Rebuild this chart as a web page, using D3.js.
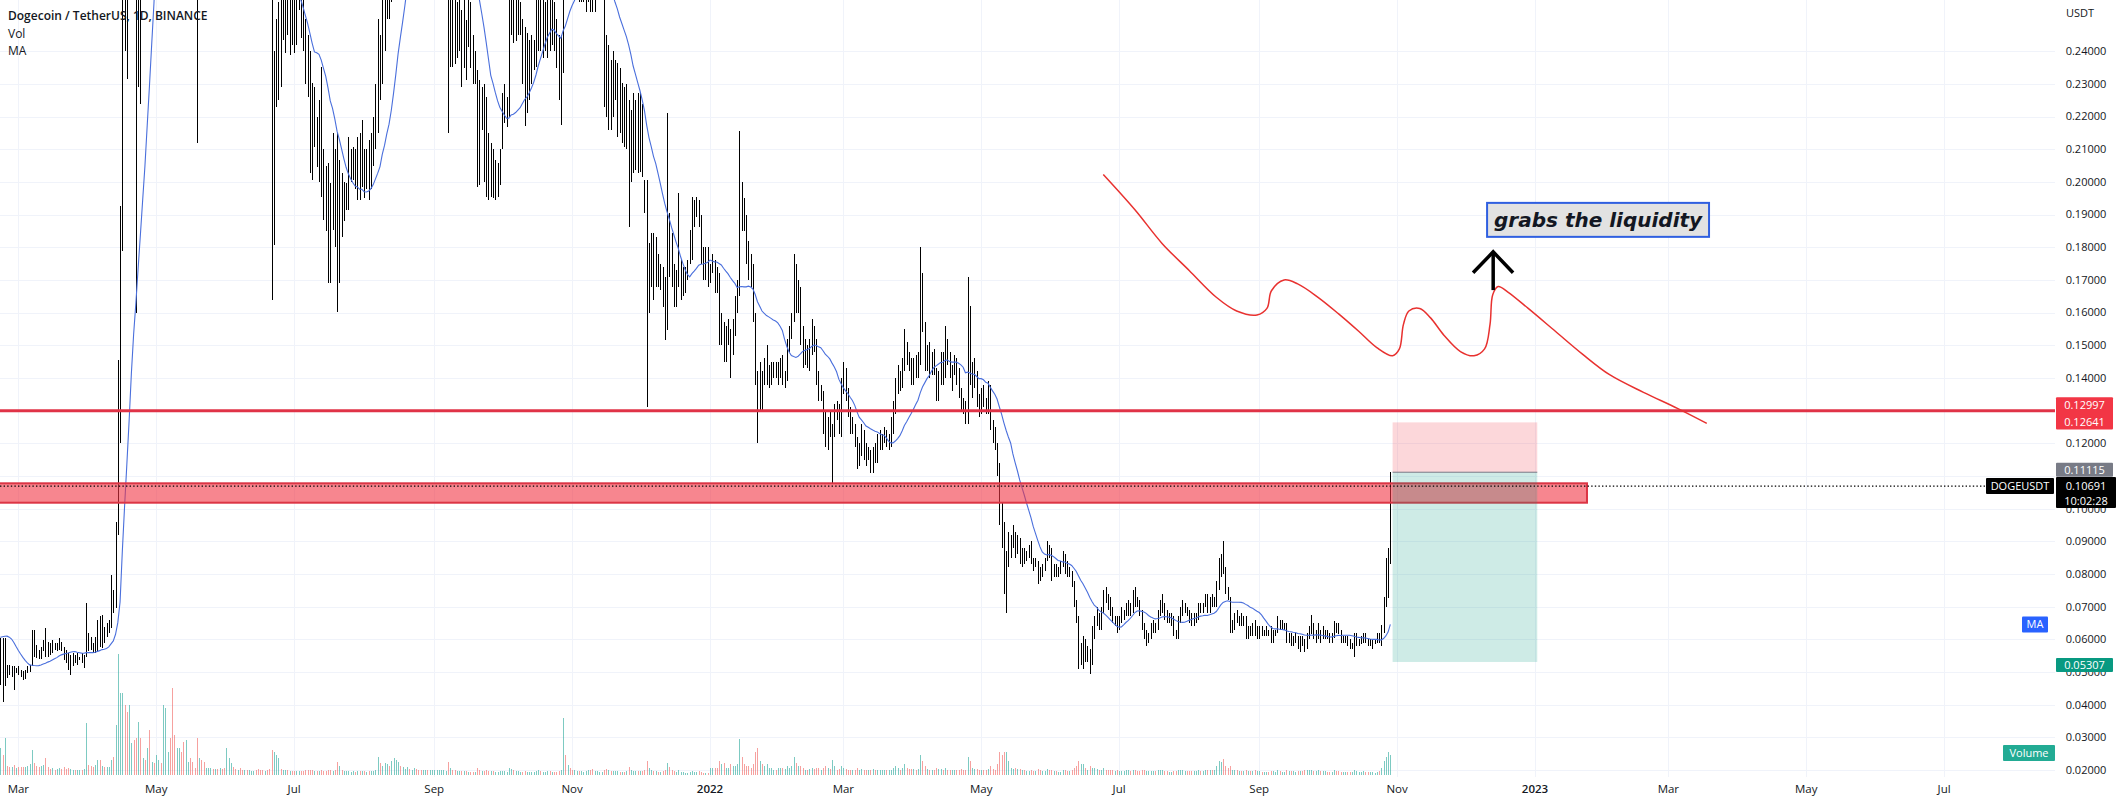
<!DOCTYPE html>
<html><head><meta charset="utf-8">
<script src="https://cdn.jsdelivr.net/npm/d3@7"></script>
<style>
html,body{margin:0;padding:0;background:#fff;}
svg{display:block;font-family:"Open Sans","Noto Sans",sans-serif;}
</style></head><body>
<svg id="chart" width="2120" height="803"></svg>
<script>
// ---------- DATA (prices x 10 000 USDT, daily bars from 2021-02-21) ----------
const firstBarDate = "2021-02-21";
// closes of the 19 days before the first visible bar (needed for the 20-day MA)
const preClose = [470,490,500,560,620,700,760,740,710,690,680,660,640,610,590,570,550,530,520];

const high = [
// 2021 Feb 21-28
603,603,603,522,522,519,517,512,
// Mar
517,506,504,506,517,522,629,629,583,568,578,598,634,593,588,598,588,588,603,593,578,568,557,552,557,552,557,547,557,552,710,
// Apr
619,608,588,608,659,670,675,639,649,659,797,751,960,1455,1925,4500,4100,3800,4000,4300,3700,3100,2950,2900,2900,2950,3150,3200,3300,3300,
// May
3900,4100,4000,5000,6800,7300,7400,6100,5300,5200,5700,5100,4900,5000,5400,5200,4700,4400,4000,3800,3700,3600,3300,3400,3600,3500,3400,3300,3300,3300,3200,
// Jun
3600,3800,4300,4100,3800,3800,3700,3400,3400,3400,3300,3300,3400,3400,3250,3000,2950,2900,2900,2850,2850,2400,2500,2550,2600,2700,2700,2650,2650,2700,
// Jul
2650,2600,2650,2600,2600,2500,2450,2400,2302,2292,2200,2250,2353,2100,2050,2057,1996,2149,2100,2149,2067,2026,2000,1996,2139,2100,2108,2100,2139,2149,2190,
// Aug
2100,2100,2129,2150,2200,2300,2500,2450,2600,2650,2750,2700,2900,3200,3300,3500,3400,3150,3150,3250,3200,3200,3400,3300,3050,2950,2950,2950,2900,2850,2950,
// Sep
3000,3050,3100,3150,3200,3100,3100,2600,2650,2600,2550,2600,2526,2560,2496,2600,2550,2450,2400,2343,2312,2292,2300,2261,2149,2118,2100,2067,2057,2100,
// Oct
2271,2300,2261,2600,2700,2650,2600,2650,2550,2500,2475,2455,2435,2450,2435,2600,2700,2650,2600,2550,2650,2700,2600,2550,2500,2450,2450,3400,3100,2900,2900,
// Nov
2800,2800,2800,2750,2700,2700,2800,2950,2900,2750,2700,2700,2700,2700,2650,2450,2419,2373,2400,2373,2363,2350,2302,2292,2300,2251,2220,2271,2250,2271,
// Dec
2271,2240,2006,2006,1812,1843,1843,1833,1780,1750,1741,1710,2210,1904,1843,1750,1731,1965,1760,1740,1740,1760,1853,1955,1945,1955,1945,1900,1800,1800,1800,
// 2022 Jan
1750,1780,1760,1740,1720,1600,1570,1560,1580,1550,1580,1650,1700,2155,2000,1950,1900,1820,1780,1750,1600,1420,1450,1420,1460,1500,1440,1450,1450,1450,1450,
// Feb
1460,1470,1420,1520,1560,1600,1780,1750,1700,1680,1560,1520,1500,1520,1580,1560,1520,1420,1380,1360,1300,1280,1300,1260,1320,1330,1320,1400,
// Mar
1450,1430,1370,1310,1280,1260,1220,1200,1260,1240,1200,1190,1180,1190,1200,1230,1240,1230,1250,1240,1230,1280,1330,1400,1440,1420,1460,1550,1510,1480,1460,
// Apr
1460,1470,1480,1800,1720,1570,1500,1510,1480,1490,1430,1420,1480,1480,1560,1520,1480,1440,1470,1460,1430,1370,1340,1330,1710,1620,1450,1460,1420,1350,
// May
1370,1380,1340,1390,1380,1270,1250,1200,1140,1020,960,870,930,920,950,930,920,910,880,880,870,890,900,850,850,840,820,830,850,900,890,
// Jun
880,830,830,820,840,870,860,840,820,810,780,720,670,590,610,600,580,570,640,670,700,680,700,750,760,740,730,700,670,670,
// Jul
670,700,690,710,720,710,750,760,730,720,690,650,630,620,650,660,650,690,720,740,710,690,680,680,670,630,670,700,720,710,700,
// Aug
690,680,680,680,710,710,710,740,740,730,740,730,780,850,860,900,820,760,730,660,680,690,670,680,670,670,640,640,650,660,640,
// Sep
640,640,630,640,630,640,630,630,670,660,660,650,650,620,620,610,620,610,610,610,600,620,640,675,650,630,650,630,640,630,
// Oct 1-29
630,620,620,655,650,650,630,610,610,610,600,590,620,620,600,610,620,620,600,600,600,600,620,620,645,730,850,880,1112
];

const low = [
460,409,457,481,491,486,445,496,
491,486,476,478,496,501,517,547,542,539,539,565,547,547,552,557,568,563,568,563,537,527,506,491,517,527,522,537,527,512,547,
563,568,557,557,563,578,573,588,608,619,634,680,695,919,1200,1790,2400,2315,2800,3000,2700,1600,2290,2240,2600,2650,2700,2900,2950,3000,
3100,3500,3600,3700,4800,5500,5300,4500,4300,4200,4600,4600,4000,4000,4500,4400,3800,3500,2120,3100,3200,2700,2700,2900,3200,3100,3000,3000,2950,2980,2950,
3000,3400,3600,3600,3500,3500,3200,3000,3100,3150,3100,3100,3150,3100,2850,2750,2750,2700,2650,2600,1640,1807,2231,2250,2292,2435,2394,2450,2389,2420,
2394,2420,2526,2440,2400,2300,2261,2026,2006,2108,2047,2000,1955,1884,1850,1690,1690,1853,1800,1603,1690,1833,1880,1914,1914,2000,2006,1980,1945,1945,1986,
1950,1980,1945,1980,2050,2100,2150,2250,2300,2400,2500,2500,2550,2750,3000,3100,2950,2900,2950,3000,3050,3000,3100,2950,2850,2700,2700,2800,2750,2700,2750,
2750,2900,2950,2950,3000,2950,2149,2353,2353,2360,2380,2400,2292,2350,2312,2414,2350,2300,2300,1986,1991,2160,2000,1955,1945,1955,1950,1945,1955,1990,
2100,2180,2169,2200,2450,2424,2430,2450,2450,2300,2170,2210,2251,2300,2343,2353,2400,2400,2380,2400,2380,2400,2420,2400,2350,2250,2174,2333,2700,2650,2650,
2600,2600,2600,2550,2550,2550,2520,2550,2520,2520,2520,2560,2560,2560,2231,2200,2159,2159,2200,2251,2139,2150,2118,2108,2100,1863,2000,2026,2037,2026,
2030,2016,1904,1310,1598,1680,1639,1680,1680,1670,1618,1516,1547,1710,1680,1618,1618,1680,1640,1650,1660,1700,1750,1761,1863,1894,1863,1750,1700,1700,1680,
1690,1720,1660,1660,1500,1500,1450,1450,1500,1400,1470,1530,1600,1650,1850,1850,1750,1700,1680,1570,1380,1200,1300,1300,1380,1380,1370,1380,1400,1400,1380,
1400,1380,1370,1390,1480,1520,1570,1600,1600,1500,1430,1440,1430,1420,1470,1480,1380,1330,1330,1230,1190,1180,1220,1080,1220,1270,1230,1220,
1350,1330,1280,1230,1230,1190,1120,1130,1160,1150,1130,1150,1110,1110,1140,1140,1180,1180,1200,1190,1180,1190,1230,1290,1350,1360,1370,1420,1440,1420,1380,
1380,1400,1400,1440,1540,1420,1420,1400,1410,1410,1330,1330,1380,1380,1400,1440,1400,1360,1410,1380,1340,1300,1290,1260,1260,1380,1340,1370,1310,1280,
1290,1310,1290,1290,1240,1200,1180,1100,950,880,740,680,820,850,880,850,860,830,820,830,840,850,830,810,820,770,780,790,810,840,850,
780,790,790,790,800,820,800,790,790,760,700,650,510,520,510,530,530,495,520,600,640,630,630,680,710,690,670,650,640,620,
630,650,660,670,670,670,680,700,700,670,630,600,580,590,600,620,620,630,670,680,660,650,650,640,610,600,600,650,670,680,670,
650,640,640,650,660,680,680,700,680,680,700,700,700,750,790,800,740,720,620,620,630,650,640,640,640,600,600,610,610,610,600,
600,610,610,610,610,590,590,610,620,630,630,630,590,590,580,580,590,570,560,580,560,570,600,615,600,590,600,590,600,600,
600,590,590,605,620,615,590,590,590,580,570,570,545,580,580,585,590,590,580,580,570,585,590,590,580,620,700,727,830
];

const close = [
540,500,520,505,500,505,490,505,
500,495,485,495,510,515,590,570,560,555,565,585,580,575,570,580,575,578,590,575,545,535,520,535,540,535,540,542,535,548,600,
590,580,570,600,630,620,640,615,625,640,720,700,940,1250,1800,3650,3300,3100,3200,3500,3000,2500,2700,2650,2750,2700,3100,3050,3200,3150,
3800,3900,3800,4900,5800,6700,6000,5000,4600,4900,5100,4800,4200,4900,5100,4600,4200,3900,3500,3600,3300,2900,3000,3300,3500,3200,3300,3100,3200,3100,3050,
3500,3700,4000,3700,3600,3700,3300,3200,3300,3200,3200,3200,3300,3200,2900,2850,2800,2800,2750,2730,2150,2250,2400,2450,2400,2550,2600,2500,2550,2500,
2450,2480,2550,2480,2450,2350,2300,2200,2150,2200,2100,2150,2050,1950,1900,1850,1800,2050,1900,1750,1950,1900,1950,1950,2050,2050,2050,2000,2100,2050,2100,
2000,2040,2000,2050,2100,2150,2400,2300,2500,2500,2600,2550,2800,3100,3200,3300,3000,3050,3050,3200,3100,3100,3300,3000,2950,2800,2900,2900,2800,2800,2900,
2950,3000,3000,3050,3050,3050,2500,2550,2500,2450,2450,2480,2450,2500,2400,2450,2400,2350,2350,2100,2050,2200,2150,2100,2050,2050,2000,2000,2000,2050,
2200,2250,2250,2500,2600,2500,2500,2500,2500,2350,2300,2350,2400,2400,2400,2500,2550,2450,2450,2500,2600,2500,2500,2450,2400,2350,2350,2950,2800,2800,2750,
2700,2700,2700,2600,2600,2600,2700,2800,2700,2600,2600,2600,2600,2600,2500,2300,2300,2200,2300,2300,2300,2200,2300,2200,2200,2100,2100,2100,2200,2100,
2100,2020,1950,1700,1750,1750,1700,1750,1700,1700,1650,1600,1800,1750,1700,1650,1650,1700,1700,1700,1700,1740,1800,1900,1900,1920,1900,1800,1720,1750,1700,
1740,1740,1700,1690,1560,1560,1500,1520,1530,1480,1550,1630,1650,1950,1930,1880,1800,1760,1700,1580,1400,1300,1420,1400,1420,1420,1420,1430,1430,1420,1430,
1430,1390,1400,1500,1540,1580,1700,1650,1650,1540,1460,1480,1450,1480,1550,1510,1400,1350,1360,1250,1220,1260,1240,1240,1300,1290,1250,1370,
1400,1350,1300,1250,1250,1200,1150,1170,1230,1180,1160,1170,1130,1180,1170,1200,1200,1210,1230,1200,1200,1250,1300,1360,1400,1380,1440,1500,1460,1440,1400,
1430,1420,1450,1620,1560,1450,1470,1420,1460,1430,1350,1400,1460,1420,1500,1460,1410,1420,1440,1400,1360,1320,1310,1280,1600,1400,1400,1400,1330,1300,
1350,1330,1300,1370,1250,1240,1200,1130,970,950,840,850,900,910,930,870,900,840,870,850,860,880,840,830,830,810,800,820,840,890,870,
800,820,800,810,830,850,830,800,800,770,710,660,550,560,590,540,560,540,620,660,670,640,690,740,720,710,680,660,660,640,
660,670,680,700,700,690,730,720,710,680,630,600,610,610,630,640,630,680,700,700,680,660,660,660,620,610,660,690,690,690,680,
670,660,660,660,700,690,700,730,690,720,710,710,760,820,820,810,750,730,640,640,670,660,660,650,660,610,630,620,640,620,620,
630,620,620,630,620,600,620,620,650,640,640,640,600,610,590,600,610,580,600,590,580,610,620,640,610,620,620,610,620,620,
610,600,610,640,630,620,600,600,600,590,580,580,590,590,590,600,610,600,590,590,590,595,610,600,640,700,760,840,1069
];

// volume, 100M DOGE
const volume = [
89,66,122,30,25,28,33,22,
26,25,28,26,30,35,82,40,30,28,30,33,56,25,20,22,18,20,22,20,25,20,22,20,18,18,16,15,18,20,172,
33,30,28,33,50,50,30,26,26,28,50,60,165,400,270,270,231,208,231,106,116,122,175,122,56,50,89,149,43,40,
66,50,40,231,221,76,122,287,132,89,89,76,109,116,43,56,43,23,122,56,50,43,23,23,23,20,20,20,23,20,23,
89,56,40,26,20,17,23,17,15,15,15,12,12,15,20,15,15,13,17,20,82,76,66,56,20,17,15,15,13,13,
13,13,12,12,12,15,15,17,15,13,12,12,15,13,13,17,17,13,15,43,30,17,13,12,12,10,12,10,12,12,12,
12,10,12,12,12,15,59,40,30,40,35,30,45,56,50,43,30,25,20,25,20,18,23,20,17,17,15,15,15,15,17,
15,15,15,15,15,13,43,23,17,15,13,13,12,12,12,10,10,10,10,23,17,13,13,15,12,12,12,10,10,12,
12,12,10,23,20,15,12,12,10,10,12,10,10,10,10,13,15,12,10,10,13,12,10,10,10,12,17,188,66,33,23,
17,15,13,12,12,10,13,17,15,20,13,12,10,10,17,20,15,13,12,12,13,10,10,10,12,25,15,12,12,13,
13,12,15,45,23,15,12,12,10,10,12,17,40,25,15,12,10,17,10,10,8,8,10,13,10,10,12,10,8,8,8,
24,24,24,24,45,36,39,24,24,36,30,30,36,120,60,36,30,30,24,36,75,90,45,36,30,36,24,24,18,18,24,
24,24,21,30,24,30,60,39,30,30,24,18,18,21,24,21,24,24,15,24,30,24,21,51,30,18,21,30,
24,21,18,18,15,18,24,18,21,18,18,15,18,21,18,18,15,15,15,15,15,18,24,30,24,18,24,36,24,21,21,
21,18,21,66,45,30,21,18,15,15,24,21,21,18,24,15,15,18,15,15,18,21,15,15,60,45,24,21,21,15,
15,15,15,21,30,21,18,36,75,66,75,75,45,24,21,24,21,21,18,15,12,12,15,12,12,21,18,12,12,21,18,
15,12,12,9,9,15,15,12,12,15,24,30,45,36,36,24,18,30,24,24,21,15,18,24,18,15,18,15,12,15,
12,12,12,15,15,12,18,15,12,12,15,15,12,12,12,12,12,15,15,18,12,12,9,9,12,12,15,15,15,12,12,
12,12,12,12,18,12,12,18,15,18,15,15,30,45,42,54,30,24,30,18,18,15,12,12,12,18,12,12,12,15,12,
12,9,9,9,9,12,12,9,15,12,9,9,15,12,12,12,9,12,12,12,15,15,15,15,12,12,15,12,12,12,
9,9,9,15,12,12,9,9,9,9,9,9,18,12,9,9,12,9,9,9,9,6,9,12,24,45,60,75,66
];

const maLength = 20;
const priceTicks = [0.02,0.03,0.04,0.05,0.06,0.07,0.08,0.09,0.10,0.11,0.12,0.13,0.14,0.15,0.16,0.17,0.18,0.19,0.20,0.21,0.22,0.23,0.24];
const hiddenTicks = [0.11, 0.13]; // fully covered by the price tags in the original
const timeTicks = [["2021-03-01","Mar"],["2021-05-01","May"],["2021-07-01","Jul"],["2021-09-01","Sep"],["2021-11-01","Nov"],
  ["2022-01-01","2022"],["2022-03-01","Mar"],["2022-05-01","May"],["2022-07-01","Jul"],["2022-09-01","Sep"],["2022-11-01","Nov"],
  ["2023-01-01","2023"],["2023-03-01","Mar"],["2023-05-01","May"],["2023-07-01","Jul"]];

// drawings
const resistanceLine = 0.12997;
const zoneTop = 0.10776, zoneBottom = 0.10182, zoneEnd = "2023-01-24";
const lastPrice = 0.10691, countdown = "10:02:28", symbol = "DOGEUSDT";
const posEntry = 0.11115, posStop = 0.12641, posTarget = 0.05307;
const posStart = "2022-10-30", posEnd = "2023-01-02";
// freehand projection: [days after 2022-01-01, price]
const projCurve = [[174,0.2023],[188,0.1915],[200,0.1812],[212,0.1729],[224,0.1647],[233,0.1605],[242,0.1593],[246.4,0.1613],[248.4,0.1667],[254,0.1700],[260,0.1688],[269,0.1647],[278,0.1597],[287,0.1543],[295,0.1493],[302,0.1468],[305,0.1489],[306.8,0.1564],[309.2,0.1605],[314,0.1613],[318.8,0.1584],[324.7,0.1531],[332,0.1481],[338,0.1468],[342.7,0.1489],[345.1,0.1564],[346.3,0.1655],[348.7,0.1680],[353,0.1663],[362,0.1613],[374,0.1543],[386,0.1473],[398,0.1410],[413,0.1356],[428,0.1307],[441,0.1261]];
const arrowShaft = [[346.5,0.1669],[346.5,0.1783]];
const arrowHead = [[337.6,0.1722],[346.5,0.1786],[355.3,0.1722]];
const noteBox = {d0:343.8, d1:442, p0:0.1936, p1:0.1832, text:"grabs the liquidity"};

// ---------- LAYOUT ----------
const PANE_R = 2055, PANE_B = 777, VOL_BASE = 775;
const DAY = 864e5;
const utc = s => new Date(s + "T00:00:00Z");
const dayAfter2022 = d => new Date(Date.UTC(2022,0,1) + d*DAY);

const x = d3.scaleUtc().domain([utc("2022-01-01"), utc("2023-01-01")]).range([710, 1535]);
const y = d3.scaleLinear().domain([0.02, 0.24]).range([770, 51.3]);
const vh = d3.scaleLinear().domain([0, 400]).range([0, 121]);
const px = d => Math.round(x(d)) + 0.5;

const svg = d3.select("#chart");
svg.append("rect").attr("width",2120).attr("height",803).attr("fill","#fff");

if (![low.length, close.length, volume.length].every(n => n === high.length)) {
  svg.append("text").attr("x",200).attr("y",200).attr("fill","red").attr("font-size",30)
    .text(`length mismatch ${high.length} ${low.length} ${close.length} ${volume.length}`);
}

const allClose = preClose.concat(close);
const t0 = utc(firstBarDate).getTime();
const bars = high.map((h, i) => {
  const j = i + preClose.length;
  const win = allClose.slice(j - maLength + 1, j + 1);
  return {
    date: new Date(t0 + i*DAY), h: h/1e4, l: low[i]/1e4, c: close[i]/1e4, v: volume[i],
    up: allClose[j] >= allClose[j-1],
    ma: d3.mean(win)/1e4
  };
});

svg.append("defs").append("clipPath").attr("id","pane")
  .append("rect").attr("x",0).attr("y",0).attr("width",PANE_R).attr("height",PANE_B);
const pane = svg.append("g").attr("clip-path","url(#pane)");

// grid
pane.selectAll("line.hg").data(priceTicks).join("line").attr("class","hg")
  .attr("x1",0).attr("x2",PANE_R).attr("y1",d=>Math.round(y(d))+0.5).attr("y2",d=>Math.round(y(d))+0.5)
  .attr("stroke","#f0f3fa").attr("stroke-width",1);
pane.selectAll("line.vg").data(timeTicks).join("line").attr("class","vg")
  .attr("x1",d=>px(utc(d[0]))).attr("x2",d=>px(utc(d[0]))).attr("y1",0).attr("y2",PANE_B)
  .attr("stroke","#f0f3fa").attr("stroke-width",1);

// volume
pane.selectAll("rect.vol").data(bars).join("rect").attr("class","vol")
  .attr("x",d=>Math.round(x(d.date))).attr("width",1)
  .attr("y",d=>VOL_BASE - vh(d.v)).attr("height",d=>vh(d.v))
  .attr("shape-rendering","crispEdges")
  .attr("fill",d=>d.up ? "rgba(38,166,154,0.6)" : "rgba(239,83,80,0.55)");

// OHLC bars
pane.selectAll("line.bar").data(bars).join("line").attr("class","bar")
  .attr("x1",d=>px(d.date)).attr("x2",d=>px(d.date))
  .attr("y1",d=>y(d.h)).attr("y2",d=>y(d.l))
  .attr("stroke","#000").attr("stroke-width",1).attr("shape-rendering","crispEdges");

// MA
pane.append("path").datum(bars)
  .attr("d", d3.line().x(d=>x(d.date)).y(d=>y(d.ma)))
  .attr("fill","none").attr("stroke","#4a6fdc").attr("stroke-width",1.1);

// resistance line
pane.append("line").attr("x1",0).attr("x2",PANE_R)
  .attr("y1",y(resistanceLine)).attr("y2",y(resistanceLine))
  .attr("stroke","#e03347").attr("stroke-width",3);

// zone
pane.append("rect").attr("x",-10).attr("width",x(utc(zoneEnd))+10)
  .attr("y",y(zoneTop)).attr("height",y(zoneBottom)-y(zoneTop))
  .attr("fill","rgba(242,54,69,0.6)").attr("stroke","#dc3545").attr("stroke-width",2);

// short position tool
const px0 = x(utc(posStart)), px1 = x(utc(posEnd));
pane.append("rect").attr("x",px0).attr("width",px1-px0).attr("y",y(posStop)).attr("height",y(posEntry)-y(posStop))
  .attr("fill","rgba(242,54,69,0.2)");
pane.append("rect").attr("x",px0).attr("width",px1-px0).attr("y",y(posEntry)).attr("height",y(posTarget)-y(posEntry))
  .attr("fill","rgba(8,153,129,0.2)");
pane.append("line").attr("x1",px0).attr("x2",px1).attr("y1",y(posEntry)).attr("y2",y(posEntry))
  .attr("stroke","#787b86").attr("stroke-width",1);

// last price dotted line
pane.append("line").attr("x1",0).attr("x2",1986).attr("y1",y(lastPrice)).attr("y2",y(lastPrice))
  .attr("stroke","#000").attr("stroke-width",1.4).attr("stroke-dasharray","1.4,2.2");

// projection curve
const dx = d => x(dayAfter2022(d[0])), dy = d => y(d[1]);
pane.append("path").datum(projCurve)
  .attr("d", d3.line().x(dx).y(dy).curve(d3.curveCatmullRom))
  .attr("fill","none").attr("stroke","#e8312f").attr("stroke-width",1.5);
pane.append("path").datum(arrowShaft).attr("d", d3.line().x(dx).y(dy))
  .attr("stroke","#000").attr("stroke-width",3.5).attr("fill","none");
pane.append("path").datum(arrowHead).attr("d", d3.line().x(dx).y(dy))
  .attr("stroke","#000").attr("stroke-width",3.5).attr("fill","none").attr("stroke-linejoin","miter");
const bx0 = x(dayAfter2022(noteBox.d0)), bx1 = x(dayAfter2022(noteBox.d1));
const by0 = y(noteBox.p0), by1 = y(noteBox.p1);
pane.append("rect").attr("x",bx0).attr("y",by0).attr("width",bx1-bx0).attr("height",by1-by0)
  .attr("fill","#e2e2e2").attr("stroke","#2f5fe0").attr("stroke-width",2);
pane.append("text").attr("x",(bx0+bx1)/2).attr("y",(by0+by1)/2).attr("dy","0.35em")
  .attr("text-anchor","middle").attr("font-family","DejaVu Sans").attr("font-weight","bold")
  .attr("font-style","italic").attr("font-size",20).attr("fill","#131722").text(noteBox.text);

// legend
const leg = svg.append("g").attr("fill","#131722");
leg.append("text").attr("x",8).attr("y",20).attr("font-size",12).attr("font-weight",600).text("Dogecoin / TetherUS, 1D, BINANCE");
leg.append("text").attr("x",8).attr("y",38).attr("font-size",12).text("Vol");
leg.append("text").attr("x",8).attr("y",55).attr("font-size",12).text("MA");

// price axis
const AX = 2086;
svg.append("text").attr("x",2066).attr("y",13).attr("dy","0.35em").attr("font-size",11).attr("fill","#131722").text("USDT");
svg.selectAll("text.pt").data(priceTicks.filter(t => !hiddenTicks.includes(t))).join("text").attr("class","pt")
  .attr("x",AX).attr("y",d=>y(d)).attr("dy","0.35em").attr("text-anchor","middle")
  .attr("font-size",11).attr("fill","#131722").text(d=>d.toFixed(5));

function tag(x0, x1, y0, y1, fill, lines, ys) {
  svg.append("rect").attr("x",x0).attr("y",y0).attr("width",x1-x0).attr("height",y1-y0).attr("fill",fill).attr("rx",1);
  lines.forEach((t,k)=>svg.append("text").attr("x",(x0+x1)/2).attr("y",ys[k]).attr("dy","0.35em")
    .attr("text-anchor","middle").attr("font-size",11).attr("fill","#fff").text(t));
}
tag(2056, 2113, y(resistanceLine)-13.5, y(posStop)+7, "#f23645",
    [resistanceLine.toFixed(5), posStop.toFixed(5)], [y(resistanceLine)-5.5, y(posStop)]);
tag(2056, 2113, y(posEntry)-9.5, y(posEntry)+4.5, "#787b86", [posEntry.toFixed(5)], [y(posEntry)-2.5]);
tag(2056, 2116, y(lastPrice)-9, y(lastPrice)+22, "#000", [lastPrice.toFixed(5), countdown], [y(lastPrice), y(lastPrice)+15]);
tag(2056, 2113, y(posTarget)-4, y(posTarget)+10, "#089981", [posTarget.toFixed(5)], [y(posTarget)+3]);
tag(1986, 2054, y(lastPrice)-8, y(lastPrice)+8, "#000", [symbol], [y(lastPrice)]);
const lastMA = bars[bars.length-1].ma;
tag(2022, 2048, y(lastMA)-8, y(lastMA)+8, "#2962ff", ["MA"], [y(lastMA)]);
tag(2003, 2055, 745, 761, "#22ab94", ["Volume"], [753]);

// time axis
svg.selectAll("text.tt").data(timeTicks).join("text").attr("class","tt")
  .attr("x",d=>x(utc(d[0]))).attr("y",789).attr("dy","0.35em").attr("text-anchor","middle")
  .attr("font-size",11.5).attr("fill","#131722")
  .attr("font-weight",d=>/^\d{4}$/.test(d[1]) ? 600 : 400).text(d=>d[1]);
</script></body></html>
